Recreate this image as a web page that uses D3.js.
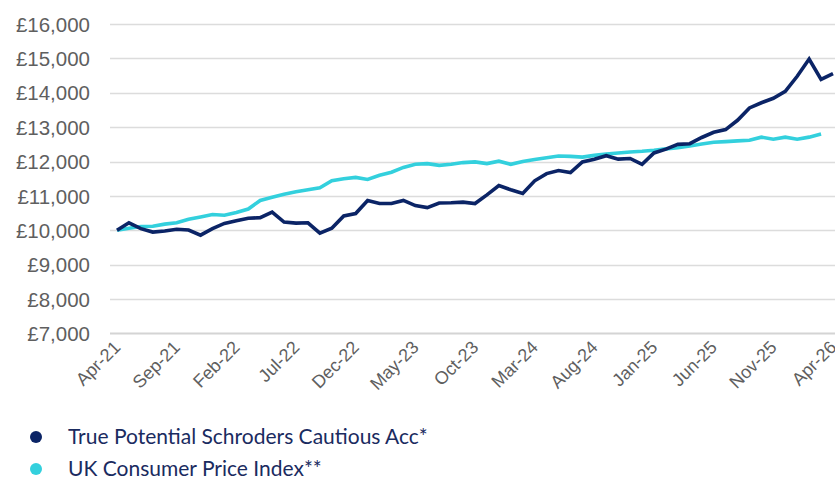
<!DOCTYPE html>
<html>
<head>
<meta charset="utf-8">
<script src="https://cdnjs.cloudflare.com/ajax/libs/d3/7.8.5/d3.min.js"></script>
<style>
  body { margin: 0; background: #fff; }
  svg { display: block; font-family: Lato, "Open Sans", sans-serif; }
  .tick text { fill: #5f5f5f; }
</style>
</head>
<body>
<div id="chart"></div>
<script>
// monthly points, Apr-21 .. Apr-26
var months = d3.timeMonth.range(new Date(2021, 3, 1), new Date(2026, 4, 1)).map(d3.timeFormat("%b-%y"));
var tickLabels = ["Apr-21", "Sep-21", "Feb-22", "Jul-22", "Dec-22", "May-23", "Oct-23", "Mar-24", "Aug-24", "Jan-25", "Jun-25", "Nov-25", "Apr-26"];
var yTicks = [7000, 8000, 9000, 10000, 11000, 12000, 13000, 14000, 15000, 16000];

var fundValues = [10000, 10220, 10050, 9950, 9980, 10030, 10010, 9860, 10050, 10200,
  10280, 10350, 10370, 10530, 10240, 10210, 10220, 9920, 10060, 10420,
  10490, 10870, 10780, 10780, 10870, 10720, 10660, 10795, 10800, 10820,
  10780, 11030, 11300, 11180, 11070, 11440, 11650, 11740, 11680, 11990,
  12070, 12170, 12070, 12090, 11920, 12250, 12360, 12500, 12520, 12700,
  12850, 12930, 13200, 13560, 13710, 13840, 14040, 14480, 14980, 14390,
  14560];
var cpiValues = [10000, 10060, 10110, 10120, 10180, 10220, 10320, 10390, 10460, 10440,
  10520, 10620, 10870, 10960, 11050, 11120, 11180, 11240, 11440, 11500,
  11540, 11480, 11600, 11690, 11830, 11920, 11940, 11890, 11920, 11970,
  11990, 11940, 12010, 11920, 12000, 12060, 12110, 12160, 12150, 12130,
  12180, 12220, 12250, 12280, 12300, 12330, 12370, 12400, 12450, 12510,
  12560, 12580, 12600, 12620, 12710, 12650, 12710, 12650, 12710, 12800];

var seriesNames = ["True Potential Schroders Cautious Acc*", "UK Consumer Price Index**"];
var seriesColors = ["#0b2466", "#33d0dd"];

var w = 835, h = 477;
var m = [24, 2, 144, 110]; // top, right, bottom, left

var svg = d3.select("#chart").append("svg").attr("width", w).attr("height", h);

var x = d3.scalePoint().domain(months).range([117, 833]);
var y = d3.scaleLinear().domain([7000, 16000]).range([h - m[2] + 0.5, m[0]]);

// gridlines
svg.append("g").selectAll("line").data(yTicks.slice(1)).enter().append("line")
  .attr("x1", m[3]).attr("x2", w).attr("y1", function(d) { return Math.round(y(d)) + 0.5; })
  .attr("y2", function(d) { return Math.round(y(d)) + 0.5; })
  .attr("stroke", "#dcdcdc").attr("stroke-width", 1.3);

// baseline
svg.append("line").attr("x1", m[3]).attr("x2", w).attr("y1", y(7000)).attr("y2", y(7000))
  .attr("stroke", "#d4d4d4").attr("stroke-width", 2);

// y axis labels
var yAxis = svg.append("g").attr("transform", "translate(" + (m[3] - 20) + ",0)")
  .call(d3.axisLeft(y).tickValues(yTicks).tickSize(0).tickPadding(0)
    .tickFormat(function(d) { return "£" + d3.format(",")(d); }));
yAxis.select(".domain").remove();
yAxis.selectAll("text").attr("font-size", 20.5).attr("dy", "0.35em");

// x axis labels
var xAxis = svg.append("g").attr("transform", "translate(0," + y(7000) + ")")
  .call(d3.axisBottom(x).tickValues(tickLabels).tickSize(0).tickPadding(0));
xAxis.select(".domain").remove();
xAxis.selectAll("text").attr("font-size", 18).attr("text-anchor", "end")
  .attr("dy", 0).attr("transform", "translate(4,15) rotate(-45)");

// lines
var line = d3.line().x(function(d, i) { return x(months[i]); }).y(function(d) { return y(d); });
[cpiValues, fundValues].forEach(function(vals, k) {
  svg.append("path").datum(vals).attr("d", line).attr("fill", "none")
    .attr("stroke", seriesColors[1 - k]).attr("stroke-width", 3.6)
    .attr("stroke-linejoin", "miter");
});

// legend
var legend = svg.append("g").selectAll("g").data(seriesNames).enter().append("g")
  .attr("transform", function(d, i) { return "translate(36," + (437 + i * 32) + ")"; });
legend.append("circle").attr("r", 6).attr("fill", function(d, i) { return seriesColors[i]; });
legend.append("text").attr("x", 32).attr("dy", "0.35em").attr("font-size", 21)
  .attr("fill", "#1a2b5f").text(function(d) { return d; });
</script>
</body>
</html>
